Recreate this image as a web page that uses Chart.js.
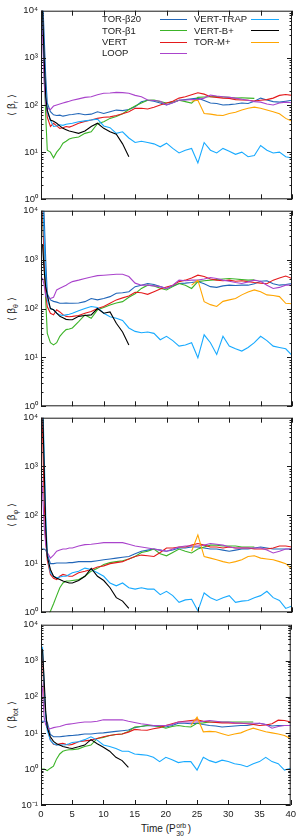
<!DOCTYPE html>
<html>
<head>
<meta charset="utf-8">
<script src="https://cdn.jsdelivr.net/npm/chart.js@4.4.1/dist/chart.umd.min.js"></script>
<style>
  body { margin: 0; width: 300px; height: 839px; position: relative; overflow: hidden; background: #fff;
         font-family: "Liberation Sans", Arial, sans-serif; color: #1a1a1a; }
  canvas { position: absolute; left: 0; }
  .yt { position: absolute; left: 12px; font-size: 10px; white-space: nowrap; transform: translate(-50%, -50%) rotate(-90deg); }
  .yt sub { font-size: 7px; }
  .key { position: absolute; font-size: 9.5px; line-height: 11px; white-space: nowrap; z-index: 2; }
  .ln { position: absolute; height: 0; border-top: 1.3px solid; z-index: 2; }
  #xt { position: absolute; left: 166px; top: 823px; transform: translateX(-50%); font-size: 10px; line-height: 12px; white-space: nowrap; }
  .ss { display: inline-block; position: relative; width: 12px; height: 1px; }
  .ss span { position: absolute; left: 0.5px; font-size: 7px; line-height: 7px; }
  .ss .u { top: -9px; }
  .ss .d { top: -1px; }
</style>
</head>
<body>

<div class="key" style="left:102px;top:13px">TOR-β20</div>
<div class="key" style="left:102px;top:25px">TOR-β1</div>
<div class="key" style="left:102px;top:36px">VERT</div>
<div class="key" style="left:102px;top:47px">LOOP</div>
<div class="ln" style="left:160px;top:19px;width:27px;border-color:#2166b8"></div>
<div class="ln" style="left:160px;top:30px;width:27px;border-color:#3cb428"></div>
<div class="ln" style="left:160px;top:42px;width:27px;border-color:#e41a1c"></div>
<div class="ln" style="left:160px;top:53px;width:27px;border-color:#aa44cc"></div>
<div class="key" style="left:194px;top:13px">VERT-TRAP</div>
<div class="key" style="left:194px;top:25px">VERT-B+</div>
<div class="key" style="left:194px;top:36px">TOR-M+</div>
<div class="ln" style="left:251px;top:19px;width:28px;border-color:#18aaff"></div>
<div class="ln" style="left:251px;top:30px;width:28px;border-color:#000"></div>
<div class="ln" style="left:251px;top:42px;width:28px;border-color:#ffa500"></div>

<div class="yt" style="top:105px">⟨ β<sub>r</sub> ⟩</div>
<div class="yt" style="top:309px">⟨ β<sub>θ</sub> ⟩</div>
<div class="yt" style="top:515px">⟨ β<sub>φ</sub> ⟩</div>
<div class="yt" style="top:715px">⟨ β<sub>tot</sub> ⟩</div>
<div id="xt">Time (P<span class="ss"><span class="u">orb</span><span class="d">30</span></span>)</div>

<script>
// time grid (P30 orbits)
const times = [0, 0.25, 0.5, 0.75, 1, 1.5, 2, 2.5, 3, 3.5, 4, 4.5, 5,
  6, 7, 8, 9, 10, 11, 12, 13, 14, 15, 16, 17, 18, 19, 20, 21, 22, 23, 24, 25,
  26, 27, 28, 29, 30, 31, 32, 33, 34, 35, 36, 37, 38, 39, 40];
const xTicks = [0, 5, 10, 15, 20, 25, 30, 35, 40];

const names = ['TOR-β20', 'TOR-β1', 'VERT', 'LOOP', 'VERT-TRAP', 'VERT-B+', 'TOR-M+'];
const colors = ['#2166b8', '#3cb428', '#e41a1c', '#aa44cc', '#18aaff', '#000000', '#ffa500'];
const startIdx = [0, 0, 0, 0, 0, 0, 31]; // TOR-M+ starts at t = 24

// <beta_r>
const r_torB20 = [50000, 20000, 3000, 400, 110, 72, 62, 60, 61, 58, 60, 62, 63,
  66, 62, 64, 72, 66, 72, 78, 76, 80, 92, 117, 126, 120, 110, 100,
  112, 126, 130, 135, 140, 125, 110, 108, 100, 102, 105, 110, 108, 120, 140,
  128, 118, 115, 120, 126];
const r_torB1 = [50000, 5000, 500, 60, 11, 10, 7.6, 10, 12, 15.5, 17, 19, 20,
  21, 25, 27, 40, 44, 52, 57, 65, 80, 95, 110, 126, 128, 118, 110,
  115, 126, 118, 110, 145, 148, 150, 152, 148, 145, 140, 142, 140, 138];
const r_vert = [50000, 8000, 800, 150, 55, 35, 41, 36, 32, 33, 35, 34, 36,
  41, 45, 48, 52, 55, 56, 60, 65, 72, 85, 85, 82, 90, 100, 110,
  120, 140, 150, 165, 182, 170, 150, 145, 140, 138, 130, 128, 126, 122, 126,
  130, 140, 160, 167, 160];
const r_loop = [30000, 3000, 300, 110, 85, 80, 95, 100, 105, 110, 115, 120, 126,
  135, 145, 150, 165, 178, 180, 185, 183, 178, 160, 150, 128, 125, 120, 100,
  112, 126, 128, 130, 130, 140, 162, 155, 150, 145, 140, 132, 126, 118, 115,
  105, 100, 110, 115, 112];
const r_trap = [50000, 10000, 1000, 200, 70, 48, 35, 36, 38, 37, 39, 40, 41,
  44, 46, 48, 50, 36, 33, 25, 27, 20, 16, 17, 16, 15, 13, 15.5,
  12, 9.6, 11, 12, 5.9, 16, 11, 9.6, 12, 10.5, 9, 10, 8, 8.5, 13.8,
  11, 9.6, 10, 8, 7.5];
const r_bplus = [50000, 10000, 1000, 150, 78, 48, 45, 41, 36, 32, 30, 28, 27,
  25, 28, 35, 41, 32, 27, 24, 15, 8];
const r_torM = [120, 126, 66, 64, 61, 60, 66, 70, 78, 85, 90, 85, 78, 72, 65, 52, 45];

// <beta_theta>
const t_torB20 = [50000, 30000, 8000, 1000, 200, 150, 140, 135, 128, 128, 130, 128, 128,
  130, 138, 160, 150, 160, 175, 205, 210, 220, 280, 300, 325, 310, 280, 257,
  290, 325, 330, 340, 355, 320, 280, 270, 290, 300, 295, 300, 300, 320, 360,
  370, 320, 300, 310, 325];
const t_torB1 = [50000, 8000, 1000, 150, 31, 20, 18, 20, 27, 32, 37, 38, 40,
  54, 74, 63, 94, 105, 118, 130, 138, 170, 200, 257, 300, 290, 260, 240,
  280, 325, 300, 257, 355, 370, 380, 390, 400, 410, 400, 390, 380, 385];
const t_vert = [50000, 10000, 1000, 200, 110, 80, 74, 94, 85, 75, 69, 68, 69,
  72, 80, 87, 100, 110, 128, 150, 165, 180, 215, 210, 195, 220, 250, 275,
  300, 355, 380, 420, 480, 450, 400, 380, 370, 380, 360, 370, 355, 340, 330,
  320, 380, 420, 460, 410];
const t_loop = [420, 410, 300, 180, 165, 160, 170, 240, 260, 280, 300, 330, 355,
  380, 410, 440, 470, 480, 490, 500, 500, 450, 330, 300, 300, 290, 280, 257,
  300, 380, 370, 380, 380, 400, 430, 410, 380, 360, 340, 325, 350, 380, 360,
  300, 257, 270, 300, 300];
const t_trap = [50000, 20000, 3000, 400, 150, 100, 94, 80, 74, 72, 74, 76, 80,
  90, 100, 110, 105, 80, 68, 63, 57, 40, 34, 32, 33, 31, 23, 27,
  22, 17, 18, 20, 9.8, 29, 20, 11.5, 27, 17, 15, 13.5, 16, 20, 27,
  22, 17, 16, 15, 11];
const t_bplus = [2100, 2000, 600, 280, 190, 100, 94, 80, 69, 65, 60, 59, 59,
  69, 72, 74, 100, 80, 85, 50, 33, 18];
const t_torM = [300, 380, 138, 120, 110, 140, 150, 160, 190, 218, 240, 220, 190, 185, 175, 128, 125];

// <beta_phi>
const p_torB20 = [20, 20, 20, 19, 16, 10, 10, 10.3, 10.3, 10.3, 10.3, 10.5, 10.5,
  11, 11, 11, 11.5, 12, 12.5, 13, 13.5, 14, 16, 18, 19, 20, 19, 18,
  19, 21, 21, 22, 22, 21, 20, 20, 19, 18, 19, 20, 20, 21, 22,
  21, 20, 20, 20, 20];
const p_torB1 = [0.4, 0.5, 0.6, 0.7, 0.8, 1.05, 1.5, 2.2, 3.2, 4, 4.4, 4.4, 4.5,
  4.7, 5.5, 7, 8, 9.6, 10.5, 11, 11.5, 12.5, 14, 17, 18, 20, 16, 14.5,
  17, 20, 18, 16.6, 20, 22, 24, 24, 23, 23, 23, 22, 22, 22];
const p_vert = [50000, 5000, 200, 30, 12, 6, 5, 4.7, 5.5, 6, 5.8, 5.5, 5.5,
  6.5, 7, 7.6, 8.5, 9, 10, 10.5, 11, 12.5, 14, 15, 14.5, 14, 17, 21,
  21, 22, 22, 24, 26, 24, 22, 22, 21, 22, 21, 21, 21, 20, 20,
  20, 21, 23, 23, 22];
const p_loop = [1000, 300, 60, 25, 17, 13, 15, 18, 19, 20, 20, 21, 21,
  23, 24.6, 25, 26, 27, 27, 27, 27, 25, 23, 22, 21, 20, 19, 18,
  20, 22, 23, 23, 23, 24, 26, 25, 24, 22, 21, 21, 21, 21, 21,
  19, 16.6, 18, 20, 20];
const p_trap = [10000, 30000, 2000, 100, 15, 6.5, 5.5, 5.1, 5.3, 5.5, 5.5, 6, 6.5,
  7, 8.1, 7.6, 6.5, 5.5, 4, 3.5, 4, 3.2, 3, 3.2, 3, 3, 2.3, 2.7,
  2.2, 1.6, 1.8, 1.85, 1.07, 2.5, 2, 1.75, 2, 2.2, 1.6, 1.7, 1.75, 2, 2.2,
  2.7, 2, 1.75, 1.2, 1.35];
const p_bplus = [50000, 20000, 1000, 60, 14, 7.6, 5.5, 5, 4.7, 4.4, 4.2, 4, 4,
  4.5, 5.5, 8, 5.5, 4.5, 3.2, 2, 1.7, 1.2];
const p_torM = [18, 39, 14, 13, 12, 11, 10.3, 11, 12, 14, 14.5, 13, 12.5, 12, 11, 10, 7.6];

// <beta_tot>
const o_torB20 = [21, 21, 21, 21, 20, 9, 7.8, 7.8, 7.8, 8, 8.2, 8.4, 8.5,
  8.8, 9.3, 9.3, 9.8, 10, 10.5, 11, 11.5, 12, 14, 15, 16, 15.5, 15, 14.5,
  16, 18.5, 18.5, 18, 18.5, 17, 16, 15.5, 14.5, 15, 15.5, 16, 16, 17, 18.5,
  17, 15.5, 16, 16, 16];
const o_torB1 = [1.0, 1.0, 1.0, 0.95, 0.9, 1.05, 1.2, 1.9, 2.6, 3.1, 3.3, 3.4, 3.4,
  3.6, 4.2, 4.6, 7, 7.5, 8.5, 9, 9.3, 11, 14.5, 15, 16, 16, 15, 13.5,
  15, 16, 15, 14.5, 18.5, 19, 20, 20, 20, 20, 20, 20, 20, 20];
const o_vert = [2000, 1000, 100, 30, 15, 6.3, 4.8, 4.6, 5, 5.1, 4.8, 4.6, 4.8,
  5.7, 6, 6.3, 7, 7.8, 8.5, 9, 9.3, 10.5, 12.5, 12, 11.8, 13, 14, 16,
  18, 20, 21, 22, 23, 21, 20, 19.5, 19, 19, 18.5, 18.5, 18, 17, 16,
  16.5, 18, 22.5, 22, 20];
const o_loop = [350, 150, 27, 17, 14, 13, 14, 14.5, 15, 16, 17, 17.5, 18,
  19, 20, 20, 21, 23, 23, 23, 23, 21, 19.5, 18, 17, 16, 16, 16,
  17, 20, 20, 20, 20, 21, 22, 21, 20, 20, 19, 18.5, 18.5, 18.5, 18.5,
  17, 13.5, 15, 16, 16];
const o_trap = [2000, 2300, 200, 30, 12, 6.3, 5, 4.6, 4.6, 4.6, 4.7, 5, 5.4,
  5.7, 6.5, 7.8, 6.3, 4.6, 4.2, 3.7, 3.1, 3.1, 2.6, 2.5, 2.4, 2.1, 1.6, 2.1,
  1.8, 1.5, 1.6, 1.6, 0.93, 2.1, 1.7, 1.5, 1.75, 1.6, 1.4, 1.3, 1.15, 1.4, 1.6,
  2.1, 1.6, 1.4, 0.93, 1.05];
const o_bplus = [2200, 2000, 300, 40, 14, 7.8, 5.8, 5, 4.6, 4.2, 4, 3.8, 3.7,
  4.1, 4.6, 6.5, 5, 4, 3.1, 2.1, 1.7, 1.1];
const o_torM = [16, 27.5, 10.7, 11, 10.7, 9.5, 8.5, 9.3, 10, 11.8, 13.5, 12, 10.7, 10, 9.3, 8.5, 6.9];

const panels = [
  { top: 10, bottom: 200, min: 1, axis: false, series: [r_torB20, r_torB1, r_vert, r_loop, r_trap, r_bplus, r_torM] },
  { top: 210, bottom: 407, min: 1, axis: false, series: [t_torB20, t_torB1, t_vert, t_loop, t_trap, t_bplus, t_torM] },
  { top: 417, bottom: 613, min: 1, axis: false, series: [p_torB20, p_torB1, p_vert, p_loop, p_trap, p_bplus, p_torM] },
  { top: 624, bottom: 805, min: 0.1, axis: true, series: [o_torB20, o_torB1, o_vert, o_loop, o_trap, o_bplus, o_torM] }
];

const sup = { '-1': '⁻¹', '0': '⁰', '1': '¹', '2': '²', '3': '³', '4': '⁴' };
const tickFont = { family: 'Liberation Sans', size: 9.5 };
const ink = '#1a1a1a';

const pts = (vals, start) => vals.map((v, i) => ({ x: times[i + start], y: v }));

// gnuplot style frame with inward ticks (major + log minor)
const frame = {
  id: 'frame',
  afterDatasetsDraw(chart) {
    const { ctx, chartArea: a } = chart;
    const xs = chart.scales.x, ys = chart.scales.y;
    ctx.save();
    ctx.strokeStyle = ink;
    ctx.lineWidth = 1;
    ctx.strokeRect(a.left + 0.5, a.top + 0.5, a.width - 1, a.height - 1);
    ctx.beginPath();
    xTicks.forEach(t => {
      const px = Math.round(xs.getPixelForValue(t)) + 0.5;
      ctx.moveTo(px, a.bottom); ctx.lineTo(px, a.bottom - 5);
      ctx.moveTo(px, a.top); ctx.lineTo(px, a.top + 5);
    });
    for (let e = Math.round(Math.log10(ys.min)); e < 4; e++) {
      for (let m = 1; m < 10; m++) {
        const py = Math.round(ys.getPixelForValue(m * Math.pow(10, e))) + 0.5;
        const len = m === 1 ? 5 : 2.5;
        ctx.moveTo(a.left, py); ctx.lineTo(a.left + len, py);
        ctx.moveTo(a.right, py); ctx.lineTo(a.right - len, py);
      }
    }
    ctx.stroke();
    ctx.restore();
  }
};

panels.forEach(p => {
  const c = document.createElement('canvas');
  c.width = 300;
  c.height = (p.bottom - p.top) + 8 + (p.axis ? 17 : 8);
  c.style.top = (p.top - 8) + 'px';
  document.body.appendChild(c);

  const decades = [];
  for (let e = Math.round(Math.log10(p.min)); e <= 4; e++) decades.push(Math.pow(10, e));

  new Chart(c, {
    type: 'line',
    data: {
      datasets: p.series.map((vals, k) => ({
        label: names[k],
        data: pts(vals, startIdx[k]),
        borderColor: colors[k],
        borderWidth: 1.1,
        pointRadius: 0,
        tension: 0,
        fill: false,
        order: 6 - k
      }))
    },
    options: {
      responsive: false,
      animation: false,
      devicePixelRatio: 1,
      layout: { padding: { top: 8, bottom: p.axis ? 0 : 8, left: 0, right: 8 } },
      plugins: { legend: { display: false }, tooltip: { enabled: false } },
      scales: {
        x: {
          type: 'linear', min: 0, max: 40, display: p.axis,
          grid: { display: false, drawTicks: false },
          border: { display: false },
          ticks: { stepSize: 5, padding: 4, color: ink, font: tickFont, maxRotation: 0 },
          afterFit: s => { s.height = p.axis ? 17 : 0; }
        },
        y: {
          type: 'logarithmic', min: p.min, max: 10000,
          grid: { display: false, drawTicks: false },
          border: { display: false },
          afterBuildTicks: s => { s.ticks = decades.map(v => ({ value: v })); },
          ticks: {
            autoSkip: false, padding: 3, color: ink, font: tickFont,
            callback: v => '10' + sup[String(Math.round(Math.log10(v)))]
          },
          afterFit: s => { s.width = 41; }
        }
      }
    },
    plugins: [frame]
  });
});
</script>
</body>
</html>
